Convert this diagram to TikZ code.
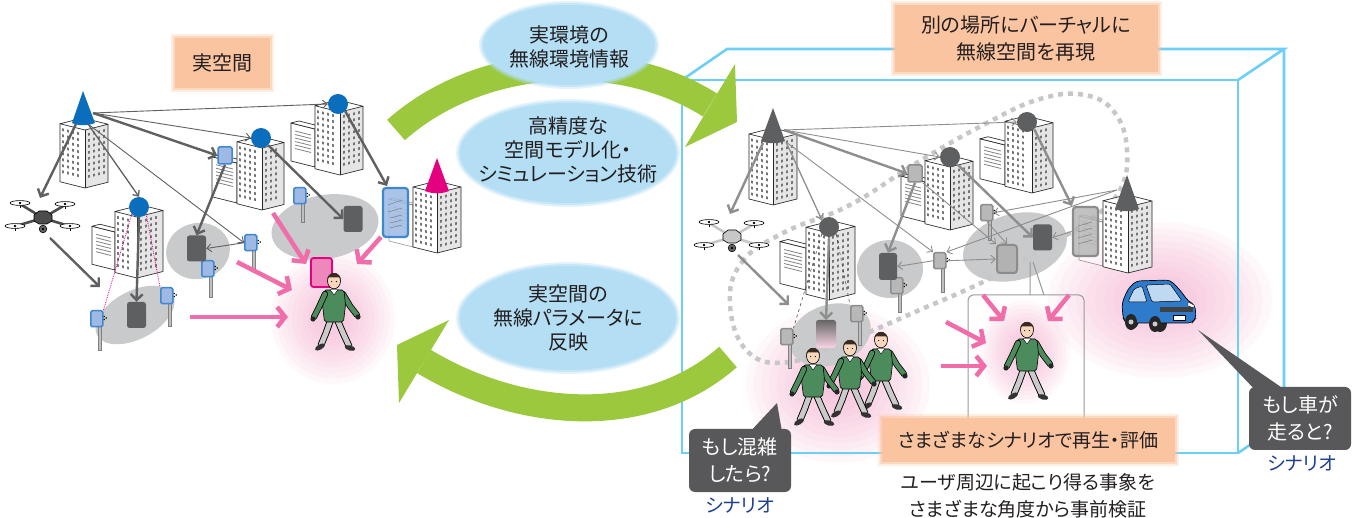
\documentclass[tikz,border=0pt]{standalone}
\usepackage{fontspec}
\newfontfamily\jp[RawFeature=+palt]{Noto Sans CJK JP}
\usetikzlibrary{arrows.meta,calc}

\definecolor{leaf}{HTML}{9BC83D}
\definecolor{skyfill}{HTML}{B3DEF4}
\definecolor{peach}{HTML}{FBC4A0}
\definecolor{frameblue}{HTML}{6DCFF6}
\definecolor{ink}{HTML}{231F20}
\definecolor{navy}{HTML}{1F3F8F}
\definecolor{bubblegray}{HTML}{58585A}
\definecolor{radioblue}{HTML}{0A6EBD}
\definecolor{devedge}{HTML}{3F87CF}
\definecolor{devfill}{HTML}{9DB9E4}
\definecolor{conepink}{HTML}{E4007F}
\definecolor{arrowpink}{HTML}{F06DA9}
\definecolor{glowpink}{HTML}{F3A9CB}
\definecolor{zonegray}{HTML}{C9CACB}
\definecolor{termgray}{HTML}{5E5F61}
\definecolor{linkdark}{HTML}{606060}
\definecolor{linklight}{HTML}{8E8E8E}
\definecolor{sweater}{HTML}{4C8B5B}
\definecolor{skin}{HTML}{F6D7BC}
\definecolor{hair}{HTML}{3A2B22}
\definecolor{pants}{HTML}{CACACA}
\definecolor{carblue}{HTML}{2F7BCB}
\definecolor{glass}{HTML}{BFD9F2}

\tikzset{
  bedge/.style={draw=black!85, line width=0.7, line join=round},
  win/.style={fill=black!55},
  louver/.style={draw=black!50, line width=0.8},
  ant/.style={draw=devedge, fill=devfill, line width=1.5, rounded corners=1.5, inner sep=0pt, minimum width=12pt, minimum height=16pt},
  vant/.style={draw=black!45, fill=black!28, line width=1.5, rounded corners=1.5, inner sep=0pt, minimum width=12pt, minimum height=16pt},
  term/.style={fill=termgray, rounded corners=2.5, inner sep=0pt, minimum width=19pt, minimum height=26pt},
  link/.style={draw=linkdark, line width=0.9, -{Straight Barb[length=4.5pt,width=8pt]}},
  heavylink/.style={draw=linkdark, line width=2.4, -{Straight Barb[length=6pt,width=12pt]}},
  vlink/.style={link, draw=linklight},
  vheavy/.style={heavylink, draw=linklight},
  pinkarrow/.style={draw=arrowpink, line width=4.5, -{Straight Barb[length=8pt,width=20pt]}},
  band/.style={draw=leaf, line width=27pt},
  frameline/.style={draw=frameblue, line width=2.6},
  caption/.style={font=\jp\fontsize{20}{24}\selectfont, text=ink, align=center, inner sep=0pt},
  smallcap/.style={font=\jp\fontsize{19}{27}\selectfont, text=ink, align=center, inner sep=0pt},
  bubbletext/.style={font=\jp\fontsize{20}{27}\selectfont, text=white, align=center, fill=bubblegray, rounded corners=6, inner sep=0pt, minimum width=102pt, minimum height=63pt},
  scen/.style={font=\jp\fontsize{19}{22}\selectfont, text=navy, inner sep=0pt},
  loopdots/.style={draw=black!22, line width=4.5, dash pattern=on 5pt off 5pt},
  walker/.pic={
    \begin{scope}[line cap=round, line join=round]
     \draw[line width=6.8] (3,38) -- (9,52) -- (15,65);
     \draw[line width=5, pants] (3,38) -- (9,52) -- (15,65);
     \fill[black!80, rotate around={-15:(16,67)}] (16,67) ellipse (5.5 and 2.6);
     \draw[line width=6.8] (-3,38) -- (-8,52) -- (-13,64);
     \draw[line width=5, pants] (-3,38) -- (-8,52) -- (-13,64);
     \fill[black!80, rotate around={30:(-14,66)}] (-14,66) ellipse (5.5 and 2.6);
     \draw[line width=6.2] (9,13) -- (16,25) -- (23,34);
     \draw[line width=4.6, sweater] (9,13) -- (16,25) -- (23,34);
     \fill[black!85] (24,36) circle (2.6);
     \filldraw[fill=sweater, draw=black, line width=0.6, rounded corners=2] (-10,9) -- (10,9) -- (11.5,24) -- (9.5,41) -- (-9.5,41) -- (-11.5,24) -- cycle;
     \draw[line width=6.2] (-9,13) -- (-15,26) -- (-20,36);
     \draw[line width=4.6, sweater] (-9,13) -- (-15,26) -- (-20,36);
     \fill[black!85] (-21,38) circle (2.6);
     \filldraw[fill=white, draw=black, line width=0.4] (-4,8.5) -- (0,14) -- (4,8.5) -- cycle;
     \filldraw[fill=skin, draw=black, line width=0.6] (0,0) ellipse (6.5 and 7.8);
     \fill[hair] (-6.8,0) .. controls (-7.8,-10.5) and (7.8,-10.5) .. (6.8,0) -- (5.6,-3.6) -- (-5.6,-3.6) -- cycle;
     \fill[black] (-2.3,0.6) circle (0.6) (2.3,0.6) circle (0.6);
    \end{scope}
  },
}

% soft pink halo behind people and the car
\newcommand{\glow}[4]{\foreach \k in {1,...,12}{\fill[glowpink, opacity=0.085] (#1,#2) ellipse ({#3*\k/12} and {#4*\k/12});}}
% peach caption plate with a soft edge
\newcommand{\softbox}[4]{%
  \fill[peach, opacity=0.3] (#1-4,#2-4) rectangle (#3+4,#4+4);
  \fill[peach, opacity=0.5] (#1-2,#2-2) rectangle (#3+2,#4+2);
  \fill[peach] (#1,#2) rectangle (#3,#4);}
% light blue oval with a soft edge
\newcommand{\skyoval}[4]{%
  \fill[skyfill, opacity=0.35] (#1,#2) ellipse ({#3+4} and {#4+4});
  \fill[skyfill, opacity=0.6] (#1,#2) ellipse ({#3+2} and {#4+2});
  \fill[skyfill] (#1,#2) ellipse (#3 and #4);}

% tall office tower: [opts] front-bottom x, y, left width, right width, height
\newcommand{\tower}[6][]{%
 \begin{scope}[shift={(#2,#3)},#1]
  \pgfmathtruncatemacro{\twrrows}{(#6-5)/6}%
  \begin{scope}[yslant=-0.25]
   \fill[white] (-#4,0) rectangle (0,-#6);
   \pgfmathtruncatemacro{\twrcols}{(#4-3)/5}%
   \foreach \i in {1,...,\twrcols}{\foreach \j in {1,...,\twrrows}{%
     \fill[win] ({-#4+5*\i-3},{-#6+6*\j-2}) rectangle ++(1.8,2.6);}}
  \end{scope}
  \begin{scope}[yslant=0.25]
   \fill[black!10] (0,0) rectangle (#5,-#6);
   \pgfmathtruncatemacro{\twrcols}{(#5-3)/5}%
   \foreach \i in {1,...,\twrcols}{\foreach \j in {1,...,\twrrows}{%
     \fill[win] ({5*\i-2},{-#6+6*\j-2}) rectangle ++(1.8,2.6);}}
  \end{scope}
  \filldraw[fill=white,bedge] (0,-#6) -- ++(-#4,-0.25*#4) -- ++(#5,-0.25*#5) -- ++(#4,0.25*#4) -- cycle;
  \draw[bedge] (-#4,-#6-0.25*#4) -- ++(0,#6) -- (0,0) -- (#5,-0.25*#5) -- ++(0,-#6);
  \draw[bedge] (0,0) -- (0,-#6);
 \end{scope}}

% low annex with louvres: [opts] front-bottom x, y, left width, right width, height
\newcommand{\lowblock}[6][]{%
 \begin{scope}[shift={(#2,#3)},#1]
  \filldraw[fill=black!10,bedge] (0,0) -- (#5,-0.25*#5) -- ++(0,-#6) -- (0,-#6) -- cycle;
  \filldraw[fill=white,bedge] (0,0) -- (-#4,-0.25*#4) -- ++(0,-#6) -- (0,-#6) -- cycle;
  \filldraw[fill=white,bedge] (0,-#6) -- ++(-#4,-0.25*#4) -- ++(#5,-0.25*#5) -- ++(#4,0.25*#4) -- cycle;
  \begin{scope}[yslant=-0.25]
   \foreach \j in {0,...,5}{\draw[louver] (-#4+4,-#6+7+3.5*\j) -- (-4,-#6+7+3.5*\j);}
  \end{scope}
 \end{scope}}

% roadside antenna: name, x, y (top-left), pole bottom, style
\newcommand{\mast}[5]{%
 \fill[black!25] (#2+8,#3+15) rectangle (#2+11,#4);
 \draw[black!50, line width=0.4] (#2+8,#3+15) rectangle (#2+11,#4);
 \node[#5, anchor=north west] (#1) at (#2,#3) {};
 \fill[black] (#2+13.5,#3+6) rectangle ++(1.3,1.2) (#2+13.5,#3+9) rectangle ++(1.3,1.2) (#2+15.6,#3+7.5) rectangle ++(1.3,1.2);}

% quadcopter: name, x, y, body colour
\newcommand{\drone}[4]{%
 \begin{scope}[shift={(#2,#3)}]
  \draw[line width=2.6, #4] (0,0) -- (-23,-14) (0,0) -- (22,-13) (0,0) -- (-27,8) (0,0) -- (26,8);
  \foreach \p in {(-23,-15),(22,-14),(-28,8),(27,8)}{
    \draw[black, line width=0.6] \p -- ++(0,5);
    \filldraw[fill=white, draw=black, line width=0.6] \p ellipse (10 and 2.4);
    \fill[black] \p circle (1.3);}
  \filldraw[fill=#4, draw=black, line width=0.6] (-9,-3) -- (-4,-7) -- (4,-7) -- (9,-3) -- (9,3) -- (4,6) -- (-4,6) -- (-9,3) -- cycle;
  \filldraw[fill=black!60, draw=black, line width=0.6] (0,11) circle (3.8);
  \fill[black] (0,11) circle (1.4);
  \coordinate (#1) at (0,0);
 \end{scope}}

\begin{document}
\begin{tikzpicture}[x=1pt,y=-1pt]
\useasboundingbox (0,0) rectangle (1358,518);

% ---------- halos ----------
\glow{333}{318}{62}{66}
\glow{838}{385}{92}{78}
\glow{1025}{352}{45}{52}
\glow{1160}{300}{112}{78}

% ---------- virtual space box ----------
\draw[frameline] (682,80) -- (727,49) -- (1284,49) -- (1238,80);
\draw[frameline] (1284,49) -- (1284,422) -- (1238,453);
\draw[frameline] (682,80) rectangle (1238,453);

% ---------- green cycle arrows ----------
\coordinate (bandAstart) at (396,130);
\coordinate (bandAend) at (710,105);
\draw[band] (bandAstart) .. controls (478,57) and (616,46) .. (bandAend);
\fill[leaf] (735,64) -- (737,122) -- (685,147) -- cycle;
\coordinate (bandBstart) at (728,357);
\coordinate (bandBend) at (424,361.5);
\draw[band] (bandBstart) .. controls (645,430) and (518,418) .. (bandBend);
\fill[leaf] (449,320) -- (397,345) -- (399,403) -- cycle;

% ================= real space (left) =================
\fill[zonegray, rotate around={28:(135,315)}] (135,315) ellipse (43 and 24);
\fill[zonegray, rotate around={12:(198,251)}] (198,251) ellipse (32 and 28);
\fill[zonegray, rotate around={10:(325,227)}] (325,227) ellipse (54 and 32);

\lowblock{315}{167}{24}{8}{38}
\tower{340}{175}{25}{23}{63}
\lowblock{237}{203}{25}{8}{40}
\tower{262}{210}{25}{22}{62}
\tower{85}{188}{25}{23}{58}
\lowblock{115}{270}{23}{8}{38}
\tower{137}{278}{22}{26}{61}
\lowblock[opacity=0.45]{413}{247}{24}{4}{42}
\tower{437}{253}{24}{24}{60}

% transmitters on the roofs
\fill[radioblue] (83,91) -- (95,123) .. controls (88,126) and (78,126) .. (72,123) -- cycle;
\coordinate (coneA) at (93,113);
\coordinate (coneAlow) at (88,124);
\coordinate (coneAleft) at (76,124);
\node[circle, fill=radioblue, minimum size=20pt, inner sep=0pt] (circB) at (139,207) {};
\node[circle, fill=radioblue, minimum size=20pt, inner sep=0pt] (circC) at (261,138) {};
\node[circle, fill=radioblue, minimum size=20pt, inner sep=0pt] (circD) at (338,104) {};
\fill[conepink] (437,158) -- (449,191) .. controls (442,194) and (432,194) .. (425,191) -- cycle;

% devices
\node[ant, minimum width=14pt, minimum height=17pt] (devC) at (225,155.5) {};
\node[ant, draw=devedge, fill=devfill, fill opacity=0.85, line width=2.2, rounded corners=3, minimum width=25pt, minimum height=49pt] (bigdev) at (395.5,212.5) {};
\draw[black!50, line width=0.5] (388,205) -- (402,200) (388,212) -- (402,208) (390,218) -- (402,215) (390,223) -- (402,220) (390,228) -- (402,225);

\mast{a1}{293}{187}{222}{ant}
\mast{a2}{244}{234}{270}{ant}
\mast{a3}{201}{260}{297}{ant}
\mast{a4}{160}{287}{326}{ant}
\mast{a5}{90}{310}{350}{ant}

\node[term] (t1) at (136.5,315) {};
\node[term] (t2) at (196.5,248.5) {};
\node[term] (t3) at (353,219) {};
\node[fill=glowpink!80!conepink, draw=conepink, line width=1.8, rounded corners=2.5, inner sep=0pt, minimum width=21pt, minimum height=29pt] (tp) at (321.5,272.5) {};

\drone{droneL}{43}{218}{black!70}
\coordinate (droneLtop) at (40,198);
\coordinate (droneLout) at (50,238);
\coordinate (zone1in) at (100,287);
\coordinate (bigdevin) at (387,186);

% radio links
\draw[link] (coneA) -- (circD.west);
\draw[link] (coneA) -- (circC.west);
\draw[heavylink] (coneA) -- (devC.west);
\draw[link] (coneAlow) -- (a2.west);
\draw[link, line width=1.3] (coneAlow) -- (circB.north);
\draw[heavylink] (coneAleft) -- (droneLtop);
\draw[heavylink] (droneLout) -- (zone1in);
\draw[heavylink] (circB.south) -- (t1.north);
\draw[heavylink] (devC.south) -- (t2.north);
\draw[link] (a2.west) -- (t2.east);
\draw[heavylink] (circC.south east) -- (t3.west);
\draw[heavylink] (circD.south east) -- (bigdevin);
\draw[conepink, line width=0.8, densely dotted] (circB.south west) -- (a5.north east);
\draw[conepink, line width=0.8, densely dotted] (circB.south east) -- (a4.north west);

% user
\pic (userL) at (334,281) {walker};
\coordinate (pinkA1) at (190,317);
\coordinate (pinkA2) at (237,262);
\coordinate (pinkA3) at (273,213);
\coordinate (pinkA4) at (381,237);
\coordinate (userLw) at (288,317);
\coordinate (userLnw) at (292,290);
\coordinate (userLn) at (306,264);
\coordinate (userLne) at (357,264);
\draw[pinkarrow] (pinkA1) -- (userLw);
\draw[pinkarrow] (pinkA2) -- (userLnw);
\draw[pinkarrow] (pinkA3) -- (userLn);
\draw[pinkarrow] (pinkA4) -- (userLne);

% ================= virtual space (right) =================
\fill[zonegray, rotate around={20:(830,335)}] (830,335) ellipse (42 and 30);
\fill[zonegray] (890,269) ellipse (33 and 29);
\fill[zonegray, rotate around={15:(1015,247)}] (1015,247) ellipse (53 and 33);

\draw[loopdots] plot[smooth cycle, tension=0.7] coordinates {(730,305) (742,262) (785,232) (850,205) (918,162) (985,124) (1040,99) (1085,95) (1115,113) (1127,150) (1120,190) (1090,220) (1040,250) (985,281) (915,312) (850,340) (790,362) (748,352)};

\lowblock{1005}{185}{25}{8}{40}
\tower{1032}{193}{27}{21}{65}
\lowblock{925}{222}{24}{8}{40}
\tower{950}{230}{25}{23}{63}
\tower{773}{205}{24}{24}{65}
\lowblock{806}{290}{26}{8}{42}
\tower{829}{300}{23}{26}{67}
\lowblock[opacity=0.45]{1103}{266}{24}{4}{44}
\tower{1128}{273}{25}{24}{66}

\fill[termgray] (773,108) -- (785,141) .. controls (778,144) and (768,144) .. (761,141) -- cycle;
\coordinate (coneRA) at (784,130);
\coordinate (coneRAlow) at (786,142);
\coordinate (coneRAleft) at (763,143);
\node[circle, fill=termgray, minimum size=20pt, inner sep=0pt] (circRB) at (829,227) {};
\node[circle, fill=termgray, minimum size=20pt, inner sep=0pt] (circRC) at (950,157) {};
\node[circle, fill=termgray, minimum size=20pt, inner sep=0pt] (circRD) at (1027,122) {};
\fill[termgray] (1127,175) -- (1139,209) .. controls (1132,212) and (1122,212) .. (1115,209) -- cycle;
\coordinate (coneRE) at (1117,190);

\node[vant, minimum width=14pt, minimum height=17pt] (devRC) at (915,173.5) {};
\node[draw=black!45, fill=black!30, fill opacity=0.8, line width=2.2, rounded corners=3, inner sep=0pt, minimum width=25pt, minimum height=49pt] (bigRE) at (1085.5,231.5) {};
\draw[black!50, line width=0.5] (1078,226) -- (1092,222) (1078,232) -- (1092,228) (1078,238) -- (1092,234) (1078,244) -- (1092,240);

\mast{ra1}{980}{204}{240}{vant}
\mast{ra2}{933}{252}{292}{vant}
\mast{ra3}{890}{277}{312}{vant}
\mast{ra4}{780}{328}{368}{vant}
\mast{ra5}{850}{305}{345}{vant}

\node[term, minimum width=18pt, minimum height=27pt] (rt1) at (888,266.5) {};
\node[term] (rt2) at (1042.5,237.5) {};
\node[draw=black!45, fill=black!30, line width=2, rounded corners=3, inner sep=0pt, minimum width=20pt, minimum height=28pt] (rt3) at (1007,259) {};
\shade[top color=black!60, bottom color=glowpink!50, rounded corners=2.5] (816,320) rectangle (836,348);
\coordinate (rtB) at (826,320);

\drone{droneR}{732}{237}{black!22}
\coordinate (droneRtop) at (730,214);
\coordinate (droneRout) at (738,255);
\coordinate (rzone1in) at (789,305);

\draw[vlink] (coneRA) -- (circRD.west);
\draw[vlink] (coneRA) -- (circRC.west);
\draw[vheavy] (coneRA) -- (devRC.west);
\draw[vlink] (coneRAlow) -- (ra2.north west);
\draw[vlink, line width=1.3] (coneRAlow) -- (circRB.north west);
\draw[vheavy] (coneRAleft) -- (droneRtop);
\draw[vheavy] (droneRout) -- (rzone1in);
\draw[vheavy] (circRB.south) -- (rtB);
\draw[vheavy] (devRC.south) -- (rt1.north);
\draw[vlink] (ra2.west) -- (rt1.east);
\draw[vlink] (ra2.east) -- (rt3.west);
\draw[vheavy] (circRC.south east) -- (rt2.west);
\draw[vlink] (devRC.south east) -- (rt3.north west);
\draw[vheavy] (circRD.south east) -- (bigRE.north west);
\draw[vlink] (coneRE) -- (ra1.east);
\draw[vlink] (coneRE) -- (ra2.north east);
\draw[vlink] (bigRE.west) -- (rt2.east);
\draw[vlink] (ra1.south) -- (rt3.north);
\draw[black!70, line width=0.6, dashed] (circRB.south west) -- (ra4.north east);
\draw[black!70, line width=0.6, dashed] (circRB.south east) -- (ra5.north west);

% close-up of one user
\coordinate (calloutA) at (1030,262);
\coordinate (calloutB) at (1033,262);
\coordinate (calloutAt) at (1030,295);
\coordinate (calloutBt) at (1044,295);
\draw[black!40, line width=1] (calloutA) -- (calloutAt) (calloutB) -- (calloutBt);
\draw[black!40, line width=1, rounded corners=5] (968,440) -- (968,295) -- (1084,295) -- (1084,440);
\pic (userR) at (1027,330) {walker};
\coordinate (rpA) at (983,295);
\coordinate (rpB) at (1069,295);
\coordinate (rpC) at (946,322);
\coordinate (rpD) at (941,366);
\coordinate (userRnw) at (1004,321);
\coordinate (userRne) at (1048,321);
\coordinate (userRw) at (986,343);
\coordinate (userRsw) at (987,366);
\draw[pinkarrow] (rpA) -- (userRnw);
\draw[pinkarrow] (rpB) -- (userRne);
\draw[pinkarrow] (rpC) -- (userRw);
\draw[pinkarrow] (rpD) -- (userRsw);

% crowd
\pic (crowdC) at (881,340) {walker};
\pic (crowdB) at (850,348) {walker};
\pic (crowdA) at (813,356) {walker};

% car
\begin{scope}[shift={(1158,305)}]
  \fill[black!85] (-26,15) ellipse (7 and 9);
  \fill[black!85] (2,18) ellipse (7 and 9);
  \filldraw[fill=carblue, draw=black, line width=0.7, rounded corners=4] (-35,13) -- (-36,-2) -- (-30,-16) -- (-22,-24) -- (12,-25) -- (22,-15) -- (30,-4) -- (37,0) -- (38,13) -- (34,18) -- (-32,18) -- cycle;
  \filldraw[fill=glass, draw=black, line width=0.5, rounded corners=1.5] (-30,-3) -- (-24,-16) -- (-16,-19) -- (-11,-3) -- cycle;
  \filldraw[fill=glass, draw=black, line width=0.5, rounded corners=1.5] (-12,-20) -- (12,-21) -- (24,-4) -- (-6,-3) -- cycle;
  \fill[black!75] (2,2) rectangle (35,7);
  \filldraw[fill=white, draw=black, line width=0.4] (15,10) rectangle (27,15);
  \filldraw[fill=white, draw=black, line width=0.4] (30,-3) -- (36,0) -- (36,3) -- (30,1) -- cycle;
  \fill[black!85] (-27,17) ellipse (6 and 8);
  \fill[black!85] (-3,19) ellipse (6 and 8);
  \fill[black!20] (-27,17) circle (2.5) (-3,19) circle (2.5);
  \coordinate (carpos) at (0,0);
\end{scope}

% ---------- blue explanation ovals ----------
\skyoval{569}{45}{86}{40}
\skyoval{568}{153}{108}{50}
\skyoval{568}{318}{108}{52}
\node[caption] (infoText) at (569,47) {実環境の\\無線環境情報};
\node[caption] (modelText) at (568,150) {高精度な\\空間モデル化・\\シミュレーション技術};
\node[caption] (feedText) at (568,318) {実空間の\\無線パラメータに\\反映};

% ---------- peach captions ----------
\softbox{175}{38}{270}{88}
\node[caption] (realText) at (222.5,63) {実空間};
\softbox{895}{5}{1158}{72}
\node[caption, font=\jp\fontsize{20}{27}\selectfont] (virtText) at (1026,39) {別の場所にバーチャルに\\無線空間を再現};
\softbox{882}{418}{1175}{462}
\node[smallcap] (replayText) at (1028,440) {さまざまなシナリオで再生・評価};
\node[smallcap] (verifyText) at (1028,496) {ユーザ周辺に起こり得る事象を\\さまざまな角度から事前検証};

% ---------- scenario bubbles ----------
\node[bubbletext] (askL) at (740,460.5) {もし混雑\\したら?};
\coordinate (tipL) at (777,403);
\fill[bubblegray] ($(askL.north)+(10,3)$) -- (tipL) -- ($(askL.north)+(42,3)$) -- cycle;
\node[scen] (scenL) at (740,505) {シナリオ};
\node[bubbletext] (askR) at (1300,418.5) {もし車が\\走ると?};
\coordinate (tipR) at (1198,330);
\fill[bubblegray] ($(askR.north)+(-45,3)$) -- (tipR) -- ($(askR.north)+(-15,3)$) -- cycle;
\node[scen] (scenR) at (1302,463) {シナリオ};
\end{tikzpicture}
\end{document}
